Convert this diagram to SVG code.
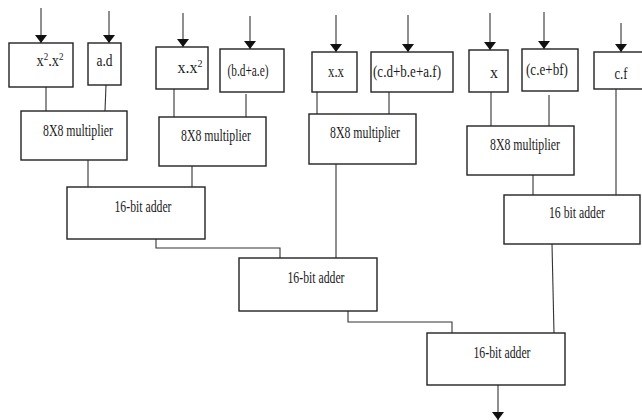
<svg xmlns="http://www.w3.org/2000/svg" width="642" height="420" viewBox="0 0 642 420">
<defs>
<marker id="ah" viewBox="0 0 8 12" refX="8" refY="6" markerWidth="8" markerHeight="12" markerUnits="userSpaceOnUse" orient="auto">
<path d="M0,0 L8,6 L0,12 Z" fill="#111"/>
</marker>
<style>
rect{fill:#fff;stroke:#222;stroke-width:1.4}
text{font-family:"Liberation Serif","Times New Roman",serif;font-size:16px;fill:#1a1a22;text-anchor:middle}
.c line,.c polyline{stroke:#333;stroke-width:1.1;fill:none}
.a{stroke:#111;stroke-width:1.2;marker-end:url(#ah)}
</style>
</defs>
<rect x="0" y="0" width="642" height="420" style="fill:#fff;stroke:none"/>
<g class="c" id="connectors">
<line class="a" x1="41" y1="8" x2="41" y2="43"/>
<line class="a" x1="109" y1="11" x2="109" y2="43"/>
<line class="a" x1="183" y1="13" x2="183" y2="47"/>
<line class="a" x1="250" y1="16" x2="250" y2="49"/>
<line class="a" x1="336" y1="15" x2="336" y2="52"/>
<line class="a" x1="408" y1="15" x2="408" y2="52"/>
<line class="a" x1="490" y1="13" x2="490" y2="50"/>
<line class="a" x1="544" y1="12" x2="544" y2="49"/>
<line class="a" x1="621" y1="23" x2="621" y2="52"/>
<line x1="46" y1="87" x2="46" y2="111"/>
<line x1="106" y1="85" x2="105" y2="111"/>
<line x1="174" y1="89" x2="174" y2="117"/>
<line x1="246" y1="94" x2="246" y2="117"/>
<line x1="317" y1="92" x2="317" y2="114"/>
<line x1="389" y1="92" x2="389" y2="114"/>
<line x1="491" y1="92" x2="491" y2="126"/>
<line x1="549" y1="95" x2="549" y2="126"/>
<line x1="616" y1="89" x2="616" y2="195"/>
<line x1="88" y1="160" x2="88" y2="187"/>
<line x1="192" y1="166" x2="192" y2="187"/>
<polyline points="156,239 156,248 280,248 280,258"/>
<line x1="336" y1="164" x2="336" y2="258"/>
<line x1="533" y1="175" x2="533" y2="195"/>
<polyline points="348,311 348,322 452,322 452,333"/>
<line x1="552" y1="244" x2="554" y2="333"/>
<line class="a" x1="498" y1="385" x2="498" y2="420"/>
</g>
<g id="in_x2x2"><rect x="9" y="43" width="64" height="44"/><text x="50" y="66" textLength="27" lengthAdjust="spacingAndGlyphs">x<tspan dy="-6" font-size="10">2</tspan><tspan dy="6">.x</tspan><tspan dy="-6" font-size="10">2</tspan></text></g>
<g id="in_ad"><rect x="88" y="43" width="33" height="42"/><text x="104.5" y="66" textLength="16" lengthAdjust="spacingAndGlyphs">a.d</text></g>
<g id="in_xx2"><rect x="156" y="47" width="52" height="42"/><text x="190" y="73" textLength="25" lengthAdjust="spacingAndGlyphs">x.x<tspan dy="-6" font-size="10">2</tspan></text></g>
<g id="in_bdae"><rect x="220" y="49" width="64" height="43"/><text x="248" y="76" textLength="41" lengthAdjust="spacingAndGlyphs">(b.d+a.e)</text></g>
<g id="in_xx"><rect x="312" y="52" width="45" height="40"/><text x="336" y="77" textLength="16" lengthAdjust="spacingAndGlyphs">x.x</text></g>
<g id="in_cdbeaf"><rect x="371" y="52" width="82" height="40"/><text x="407" y="77" textLength="68" lengthAdjust="spacingAndGlyphs">(c.d+b.e+a.f)</text></g>
<g id="in_x"><rect x="469" y="50" width="39" height="42"/><text x="494" y="78">x</text></g>
<g id="in_cebf"><rect x="522" y="49" width="56" height="42"/><text x="547" y="75" textLength="42" lengthAdjust="spacingAndGlyphs">(c.e+bf)</text></g>
<g id="in_cf"><rect x="594" y="52" width="60" height="37"/><text x="621" y="79" textLength="13" lengthAdjust="spacingAndGlyphs">c.f</text></g>
<g id="mult1"><rect x="21" y="111" width="106" height="49"/><text x="78" y="136" textLength="70" lengthAdjust="spacingAndGlyphs">8X8 multiplier</text></g>
<g id="mult2"><rect x="159" y="117" width="107" height="49"/><text x="216" y="141" textLength="70" lengthAdjust="spacingAndGlyphs">8X8 multiplier</text></g>
<g id="mult3"><rect x="309" y="114" width="107" height="50"/><text x="365" y="138" textLength="70" lengthAdjust="spacingAndGlyphs">8X8 multiplier</text></g>
<g id="mult4"><rect x="467" y="126" width="107" height="49"/><text x="525" y="150" textLength="70" lengthAdjust="spacingAndGlyphs">8X8 multiplier</text></g>
<g id="adder1"><rect x="67" y="187" width="138" height="52"/><text x="143" y="212" textLength="57" lengthAdjust="spacingAndGlyphs">16-bit adder</text></g>
<g id="adder2"><rect x="239" y="258" width="138" height="53"/><text x="316" y="283" textLength="57" lengthAdjust="spacingAndGlyphs">16-bit adder</text></g>
<g id="adder4"><rect x="504" y="195" width="136" height="49"/><text x="577" y="218" textLength="56" lengthAdjust="spacingAndGlyphs">16 bit adder</text></g>
<g id="adder3"><rect x="427" y="333" width="138" height="52"/><text x="502" y="358" textLength="57" lengthAdjust="spacingAndGlyphs">16-bit adder</text></g>
</svg>
